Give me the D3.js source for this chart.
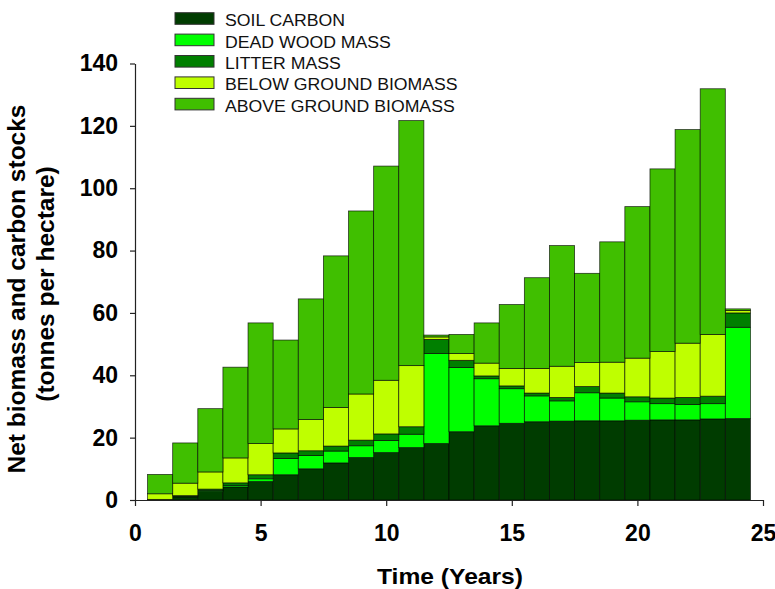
<!DOCTYPE html>
<html><head><meta charset="utf-8">
<script src="https://cdn.jsdelivr.net/npm/d3@7"></script>
<style>body{margin:0;background:#fff}svg{display:block}text{font-family:"Liberation Sans",Arial,sans-serif}</style>
</head><body><svg id="c" width="775" height="589"></svg>
<script>
const years = [1,2,3,4,5,6,7,8,9,10,11,12,13,14,15,16,17,18,19,20,21,22,23,24];
const soilCarbon   = [0.2,1.0,2.7,4.2,5.9,8.1,10.0,11.9,13.6,15.2,16.8,18.1,21.9,23.8,24.6,25.1,25.3,25.4,25.4,25.6,25.7,25.7,26.0,26.1];
const deadWood     = [0.0,0.2,0.3,0.5,0.9,5.2,4.3,3.8,3.8,3.9,4.3,28.9,20.6,15.1,11.1,8.3,6.5,9.0,7.3,5.9,5.2,4.9,4.9,29.3];
const litterMass   = [0.0,0.2,0.5,0.8,1.3,1.8,1.5,1.6,1.8,2.1,2.4,4.5,2.3,0.9,0.9,0.9,1.1,2.0,1.6,1.6,1.8,2.3,2.4,4.6];
const belowGround  = [1.8,4.0,5.5,8.0,10.0,7.7,10.0,12.4,14.8,17.2,19.6,0.8,2.2,4.1,5.6,7.9,10.0,7.7,9.9,12.4,14.9,17.4,19.8,0.8];
const aboveGround  = [6.2,12.9,20.3,29.1,38.7,28.5,38.7,48.6,58.7,68.7,78.6,0.6,6.1,12.9,20.5,29.1,38.7,28.6,38.6,48.6,58.6,68.5,78.8,0.5];
const seriesNames  = ["SOIL CARBON","DEAD WOOD MASS","LITTER MASS","BELOW GROUND BIOMASS","ABOVE GROUND BIOMASS"];
const seriesColors = ["#003c00","#00ff00","#007f00","#bfff00","#40bf00"];
const xTicks = [0,5,10,15,20,25];
const yTicks = [0,20,40,60,80,100,120,140];

const svg = d3.select("#c");
const x = d3.scaleLinear().domain([0,25]).range([135,763]);
const y = d3.scaleLinear().domain([0,140]).range([500,63.5]);

const keys = ["soil","dead","litter","below","above"];
const table = years.map((yr,i)=>({year:yr, soil:soilCarbon[i], dead:deadWood[i], litter:litterMass[i], below:belowGround[i], above:aboveGround[i]}));
const stacked = d3.stack().keys(keys)(table);

stacked.forEach((s,k)=>{
  svg.append("g").selectAll("rect").data(s).join("rect")
    .attr("x", d=>x(d.data.year-0.5))
    .attr("width", d=>x(d.data.year+0.5)-x(d.data.year-0.5))
    .attr("y", d=>y(d[1]))
    .attr("height", d=>Math.max(0,y(d[0])-y(d[1])))
    .attr("fill", seriesColors[k])
    .attr("stroke","#000").attr("stroke-opacity",0.75).attr("stroke-width",0.8);
});

// axes
const xAxis = svg.append("g").attr("transform","translate(0,500)")
  .call(d3.axisBottom(x).tickValues(xTicks).tickSize(6).tickSizeOuter(0).tickPadding(19).tickFormat(d3.format("d")));
const yAxis = svg.append("g").attr("transform","translate(135,0)")
  .call(d3.axisLeft(y).tickValues(yTicks).tickSize(5).tickSizeOuter(0).tickPadding(12).tickFormat(d3.format("d")));
[xAxis,yAxis].forEach(g=>{
  g.select(".domain").attr("stroke","#222").attr("stroke-width",1.2);
  g.selectAll(".tick line").attr("stroke","#222").attr("stroke-width",1.2);
  g.selectAll(".tick text").attr("font-size",23).attr("font-weight","bold").attr("fill","#000")
   .style("font-family","'Liberation Sans',Arial,sans-serif");
});

// axis titles
const xt = svg.append("text").attr("x",450).attr("y",584).attr("text-anchor","middle")
  .attr("font-size",22).attr("font-weight","bold").text("Time (Years)");
xt.attr("textLength",146).attr("lengthAdjust","spacingAndGlyphs");
svg.append("text").attr("transform","translate(25,289) rotate(-90)").attr("text-anchor","middle")
  .attr("font-size",24.5).attr("font-weight","bold").text("Net biomass and carbon stocks");
svg.append("text").attr("transform","translate(54,284) rotate(-90)").attr("text-anchor","middle")
  .attr("font-size",24.5).attr("font-weight","bold").text("(tonnes per hectare)");

// legend
const leg = svg.append("g");
seriesNames.forEach((n,i)=>{
  const yy = 12.7 + i*21.4;
  leg.append("rect").attr("x",175).attr("y",yy).attr("width",39).attr("height",11.6)
    .attr("fill",seriesColors[i]).attr("stroke","#333").attr("stroke-width",1);
  const t = leg.append("text").attr("x",225).attr("y",yy+13.5).attr("font-size",16.3).attr("fill","#111").text(n);
  const w = t.node().getComputedTextLength();
  t.attr("textLength", w*1.085).attr("lengthAdjust","spacingAndGlyphs");
});
</script></body></html>
